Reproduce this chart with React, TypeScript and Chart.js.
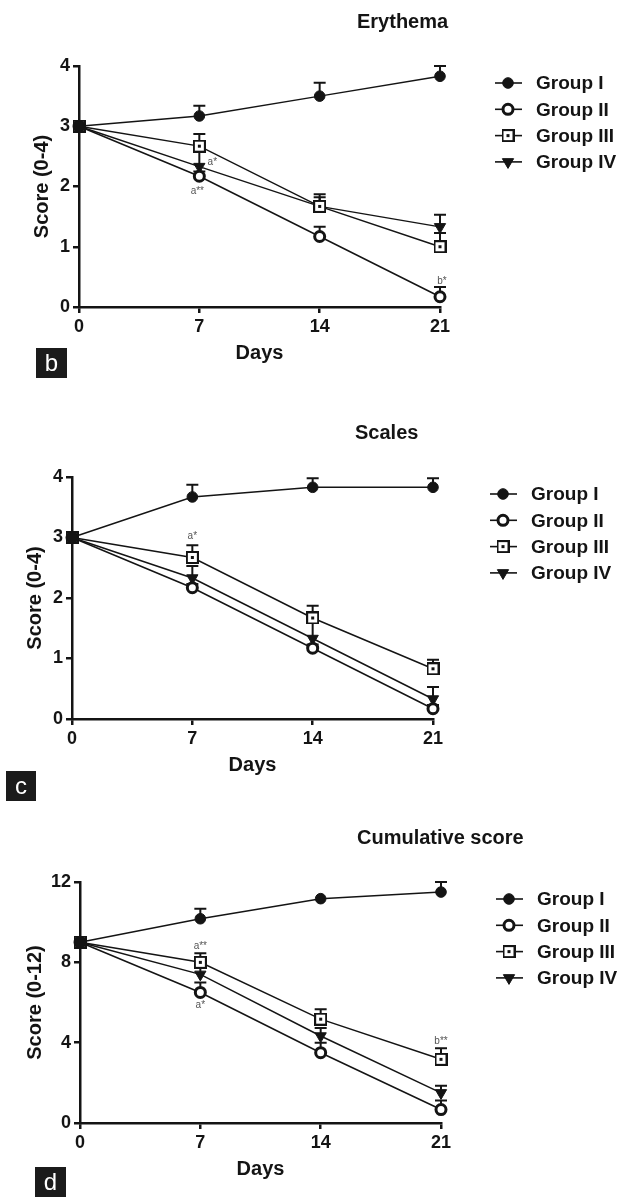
import React, { useEffect, useRef } from 'react';
import { Chart, registerables } from 'chart.js';

Chart.register(...registerables);

// ---------------- data ----------------
const days = [0, 7, 14, 21];
const groupLabels = ['Group I', 'Group II', 'Group III', 'Group IV'];

// Erythema, score 0-4
const eryTicks = [0, 1, 2, 3, 4];
const eryGroupI = [3, 3.17, 3.5, 3.83];
const eryGroupII = [3, 2.17, 1.17, 0.17];
const eryGroupIII = [3, 2.67, 1.67, 1.0];
const eryGroupIV = [3, 2.33, 1.67, 1.33];
const eryErrI = [0, 0.17, 0.22, 0.17];
const eryErrII = [0, 0.08, 0.16, 0.16];
const eryErrIII = [0, 0.2, 0.2, 0.23];
const eryErrIV = [0, 0.25, 0.15, 0.2];
const eryNotes = [
  { group: 3, day: 1, text: 'a*' },
  { group: 1, day: 1, text: 'a**' },
  { group: 1, day: 3, text: 'b*' },
];

// Scales, score 0-4
const scaTicks = [0, 1, 2, 3, 4];
const scaGroupI = [3, 3.67, 3.83, 3.83];
const scaGroupII = [3, 2.17, 1.17, 0.17];
const scaGroupIII = [3, 2.67, 1.67, 0.83];
const scaGroupIV = [3, 2.33, 1.33, 0.33];
const scaErrI = [0, 0.2, 0.15, 0.15];
const scaErrII = [0, 0.06, 0.06, 0.06];
const scaErrIII = [0, 0.2, 0.2, 0.15];
const scaErrIV = [0, 0.2, 0.3, 0.2];
const scaNotes = [{ group: 2, day: 1, text: 'a*' }];

// Cumulative score, 0-12
const cumTicks = [0, 4, 8, 12];
const cumGroupI = [9, 10.17, 11.17, 11.5];
const cumGroupII = [9, 6.5, 3.5, 0.67];
const cumGroupIII = [9, 8.0, 5.17, 3.17];
const cumGroupIV = [9, 7.4, 4.33, 1.5];
const cumErrI = [0, 0.5, 0, 0.5];
const cumErrII = [0, 0.5, 0.5, 0.45];
const cumErrIII = [0, 0.45, 0.5, 0.55];
const cumErrIV = [0, 0.4, 0.4, 0.35];
const cumNotes = [
  { group: 2, day: 1, text: 'a**' },
  { group: 1, day: 1, text: 'a*' },
  { group: 2, day: 3, text: 'b**' },
];

// ---------------- layout / style ----------------
const W = 621;
const INK = '#141414';
const FONT = '"Liberation Sans", Arial, Helvetica, sans-serif';
const YW = 50; // fixed y-scale width
const XH = 30; // fixed x-scale height

// pixel offsets of the significance notes, same order as the notes arrays
const eryNoteOffsets = [[13, -4], [-2, 15], [2, -16]];
const scaNoteOffsets = [[0, -21]];
const cumNoteOffsets = [[0, -16], [0, 13], [0, -18]];

const panels = [
  {
    key: 'b', title: 'Erythema', yTitle: 'Score (0-4)', yMax: 4, ticks: eryTicks,
    series: [eryGroupI, eryGroupII, eryGroupIII, eryGroupIV],
    errs: [eryErrI, eryErrII, eryErrIII, eryErrIV],
    notes: eryNotes, noteOffsets: eryNoteOffsets,
    top: 0, H: 385,
    area: { left: 79, right: 440, top: 66, bottom: 307 },
    titleX: 357, titleY: 22, yTitleX: 42,
    box: { x: 36, y: 348, w: 31, h: 30 },
    legendX: 508, legendY: 83,
  },
  {
    key: 'c', title: 'Scales', yTitle: 'Score (0-4)', yMax: 4, ticks: scaTicks,
    series: [scaGroupI, scaGroupII, scaGroupIII, scaGroupIV],
    errs: [scaErrI, scaErrII, scaErrIII, scaErrIV],
    notes: scaNotes, noteOffsets: scaNoteOffsets,
    top: 385, H: 420,
    area: { left: 72, right: 433, top: 92, bottom: 334 },
    titleX: 355, titleY: 48, yTitleX: 35,
    box: { x: 6, y: 386, w: 30, h: 30 },
    legendX: 503, legendY: 109,
  },
  {
    key: 'd', title: 'Cumulative score', yTitle: 'Score (0-12)', yMax: 12, ticks: cumTicks,
    series: [cumGroupI, cumGroupII, cumGroupIII, cumGroupIV],
    errs: [cumErrI, cumErrII, cumErrIII, cumErrIV],
    notes: cumNotes, noteOffsets: cumNoteOffsets,
    top: 805, H: 392,
    area: { left: 80, right: 441, top: 77, bottom: 318 },
    titleX: 357, titleY: 33, yTitleX: 35,
    box: { x: 35, y: 362, w: 31, h: 30 },
    legendX: 509, legendY: 94,
  },
];

function makeSquareMarker(): HTMLCanvasElement {
  const c = document.createElement('canvas');
  c.width = 13;
  c.height = 13;
  const ctx = c.getContext('2d')!;
  ctx.fillStyle = '#fff';
  ctx.fillRect(1, 1, 11, 11);
  ctx.strokeStyle = INK;
  ctx.lineWidth = 2;
  ctx.strokeRect(1, 1, 11, 11);
  ctx.fillStyle = INK;
  ctx.fillRect(5, 5, 3, 3);
  return c;
}

function markerStyles(square: HTMLCanvasElement) {
  return [
    { pointStyle: 'circle', radius: 5.3, rotation: 0, bg: INK, borderWidth: 1 },
    { pointStyle: 'circle', radius: 5, rotation: 0, bg: '#fff', borderWidth: 3 },
    { pointStyle: square, radius: 6, rotation: 0, bg: '#fff', borderWidth: 0 },
    { pointStyle: 'triangle', radius: 6.5, rotation: 180, bg: INK, borderWidth: 1 },
  ];
}

function drawLegendMarker(ctx: CanvasRenderingContext2D, m: any, x: number, y: number) {
  ctx.save();
  ctx.fillStyle = m.bg;
  ctx.strokeStyle = INK;
  ctx.lineWidth = m.borderWidth;
  if (m.pointStyle === 'circle') {
    ctx.beginPath();
    ctx.arc(x, y, m.radius, 0, Math.PI * 2);
    ctx.fill();
    if (m.borderWidth) ctx.stroke();
  } else if (m.pointStyle === 'triangle') {
    const r = m.radius;
    ctx.beginPath();
    for (let k = 0; k < 3; k++) {
      const ang = Math.PI + (k * 2 * Math.PI) / 3;
      const px = x + Math.sin(ang) * r;
      const py = y - Math.cos(ang) * r;
      if (k === 0) ctx.moveTo(px, py);
      else ctx.lineTo(px, py);
    }
    ctx.closePath();
    ctx.fill();
    if (m.borderWidth) ctx.stroke();
  } else {
    const img = m.pointStyle as HTMLCanvasElement;
    ctx.drawImage(img, x - img.width / 2, y - img.height / 2);
  }
  ctx.restore();
}

function PanelChart({ p }: { p: any }) {
  const ref = useRef<HTMLCanvasElement | null>(null);
  useEffect(() => {
    const canvas = ref.current!;
    const square = makeSquareMarker();
    const ms = markerStyles(square);

    const decor = {
      id: 'decor',
      beforeDatasetsDraw(chart: any) {
        const ctx = chart.ctx;
        const xs = chart.scales.x;
        const ys = chart.scales.y;
        ctx.save();
        ctx.strokeStyle = INK;
        ctx.lineWidth = 2;
        p.series.forEach((s: number[], gi: number) => {
          s.forEach((v: number, j: number) => {
            const e = p.errs[gi][j];
            if (!e) return;
            const x = xs.getPixelForValue(days[j]);
            const y0 = ys.getPixelForValue(v);
            const y1 = ys.getPixelForValue(v + e);
            ctx.beginPath();
            ctx.moveTo(x, y0);
            ctx.lineTo(x, y1);
            ctx.moveTo(x - 6, y1);
            ctx.lineTo(x + 6, y1);
            ctx.stroke();
          });
        });
        ctx.restore();
      },
      afterDraw(chart: any) {
        const ctx = chart.ctx;
        const a = chart.chartArea;
        const xs = chart.scales.x;
        const ys = chart.scales.y;
        ctx.save();
        ctx.fillStyle = INK;
        // title
        ctx.font = `bold 20px ${FONT}`;
        ctx.textAlign = 'left';
        ctx.textBaseline = 'middle';
        ctx.fillText(p.title, p.titleX, p.titleY);
        // x title
        ctx.textAlign = 'center';
        ctx.fillText('Days', (a.left + a.right) / 2, a.bottom + 46);
        // y title
        ctx.save();
        ctx.translate(p.yTitleX, (a.top + a.bottom) / 2);
        ctx.rotate(-Math.PI / 2);
        ctx.fillText(p.yTitle, 0, 0);
        ctx.restore();
        // legend
        groupLabels.forEach((lab, i) => {
          const y = p.legendY + i * 26.3;
          ctx.strokeStyle = INK;
          ctx.lineWidth = 1.6;
          ctx.beginPath();
          ctx.moveTo(p.legendX - 13, y);
          ctx.lineTo(p.legendX + 14, y);
          ctx.stroke();
          drawLegendMarker(ctx, ms[i], p.legendX, y);
          ctx.fillStyle = INK;
          ctx.font = `bold 19px ${FONT}`;
          ctx.textAlign = 'left';
          ctx.fillText(lab, p.legendX + 28, y + 1);
        });
        // significance notes
        ctx.font = `10px ${FONT}`;
        ctx.fillStyle = '#555';
        ctx.textAlign = 'center';
        p.notes.forEach((n: any, k: number) => {
          const off = p.noteOffsets[k];
          const x = xs.getPixelForValue(days[n.day]) + off[0];
          const y = ys.getPixelForValue(p.series[n.group][n.day]) + off[1];
          ctx.fillText(n.text, x, y);
        });
        // panel letter box
        ctx.fillStyle = '#1b1b1b';
        ctx.fillRect(p.box.x, p.box.y, p.box.w, p.box.h);
        ctx.fillStyle = '#fff';
        ctx.font = `24px ${FONT}`;
        ctx.textAlign = 'center';
        ctx.fillText(p.key, p.box.x + p.box.w / 2, p.box.y + p.box.h / 2 + 1);
        ctx.restore();
      },
    };

    const datasets = p.series.map((s: number[], i: number) => ({
      label: groupLabels[i],
      data: days.map((d, j) => ({ x: d, y: s[j] })),
      borderColor: INK,
      borderWidth: 1.5,
      pointStyle: ms[i].pointStyle,
      pointRadius: ms[i].radius,
      pointRotation: ms[i].rotation,
      pointBackgroundColor: ms[i].bg,
      pointBorderColor: INK,
      pointBorderWidth: ms[i].borderWidth,
      tension: 0,
      clip: false,
      fill: false,
    }));

    const tickFont = { family: FONT, size: 18, weight: 'bold' as const };
    const chart = new Chart(canvas, {
      type: 'line',
      data: { datasets },
      plugins: [decor],
      options: {
        responsive: false,
        maintainAspectRatio: false,
        animation: false,
        events: [],
        layout: {
          padding: {
            left: p.area.left - YW,
            right: W - p.area.right,
            top: p.area.top,
            bottom: p.H - p.area.bottom - XH,
          },
        },
        plugins: { legend: { display: false }, tooltip: { enabled: false }, title: { display: false } },
        scales: {
          x: {
            type: 'linear',
            min: 0,
            max: 21,
            afterBuildTicks: (s: any) => { s.ticks = days.map((v) => ({ value: v })); },
            afterFit: (s: any) => { s.height = XH; },
            ticks: { font: tickFont, color: INK, padding: 3, maxRotation: 0 },
            grid: { drawOnChartArea: false, drawTicks: true, tickLength: 6, tickColor: INK, tickWidth: 2.5, color: INK, lineWidth: 2.5 },
            border: { display: true, color: INK, width: 2.5 },
          },
          y: {
            type: 'linear',
            min: 0,
            max: p.yMax,
            afterBuildTicks: (s: any) => { s.ticks = p.ticks.map((v: number) => ({ value: v })); },
            afterFit: (s: any) => { s.width = YW; },
            ticks: { font: tickFont, color: INK, padding: 3 },
            grid: { drawOnChartArea: false, drawTicks: true, tickLength: 6, tickColor: INK, tickWidth: 2.5, color: INK, lineWidth: 2.5 },
            border: { display: true, color: INK, width: 2.5 },
          },
        },
      },
    });
    return () => chart.destroy();
  }, [p]);
  return (
    <canvas
      ref={ref}
      width={W}
      height={p.H}
      style={{ position: 'absolute', left: 0, top: p.top, width: W, height: p.H, display: 'block' }}
    />
  );
}

export default function App() {
  return (
    <div style={{ position: 'absolute', left: 0, top: 0, width: W, height: 1197, background: '#fff', overflow: 'hidden' }}>
      {panels.map((p) => (
        <PanelChart key={p.key} p={p} />
      ))}
    </div>
  );
}
